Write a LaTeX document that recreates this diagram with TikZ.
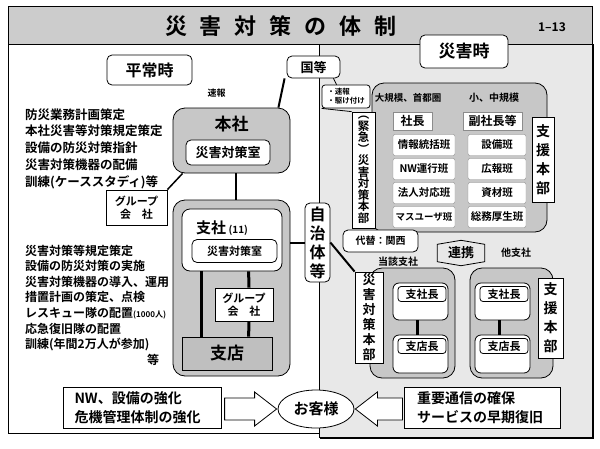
\documentclass[tikz,border=0pt]{standalone}
\usepackage{fontspec}
\setmainfont{Noto Sans CJK JP}[BoldFont={Noto Sans CJK JP Bold}]
\usepackage{tikz}
\usetikzlibrary{shapes.geometric}
\newcommand{\fsz}[2]{\fontsize{#1}{#2}\selectfont}

\begin{document}
\begin{tikzpicture}[x=1pt, y=-1pt,
    box/.style={draw, line width=0.8pt, fill=white, inner sep=0pt, font=\bfseries},
    rbox/.style={box, rounded corners=5pt},
    grey/.style={draw, line width=0.8pt, fill=black!22, inner sep=0pt, rounded corners=12pt},
    lbl/.style={inner sep=0pt, font=\bfseries},
    conn/.style={line width=2pt},
    cell/.style={draw=black!45, fill=white, inner sep=0pt, rounded corners=2pt, font=\fsz{10.5}{10.5}\bfseries}]
    \useasboundingbox (0, 0) rectangle (600, 448);

    % frame, right half, title band
    \draw[line width=1pt] (8, 6) rectangle (592, 433);
    \draw[line width=0.8pt, fill=black!9] (319, 44) rectangle (592, 437);
    \draw[line width=2pt] (320, 438) -- (593, 438) -- (593, 44);
    \draw[line width=1pt, fill=black!20] (8, 6) rectangle (592, 44);
    \node[lbl, font=\fsz{22}{22}\bfseries] (title) at (281, 26) {災\hspace{13pt}害\hspace{13pt}対\hspace{13pt}策\hspace{13pt}の\hspace{13pt}体\hspace{13pt}制};
    \node[lbl, font=\fsz{12}{12}\bfseries] (pageno) at (552, 27) {1–13};

    \node[rbox, font=\fsz{16}{16}\bfseries, minimum width=85pt, minimum height=30pt] (heijo) at (149.5, 70) {平常時};
    \node[rbox, font=\fsz{17}{17}\bfseries, minimum width=88pt, minimum height=33pt] (saigai) at (464, 51.5) {災害時};

    % left: normal times
    \node[lbl, anchor=west, align=left, font=\fsz{12.5}{16.75}\bfseries] (plan1) at (25, 148.5) {防災業務計画策定\\本社災害等対策規定策定\\設備の防災対策指針\\災害対策機器の配備\\訓練(ケーススタディ)等};
    \node[lbl, anchor=west, align=left, font=\fsz{12}{15.6}\bfseries] (plan2) at (25, 298) {災害対策等規定策定\\設備の防災対策の実施\\災害対策機器の導入、運用\\措置計画の策定、点検\\レスキュー隊の配置{\fsz{8}{8}(1000人)}\\応急復旧隊の配置\\訓練(年間2万人が参加)};
    \node[lbl, font=\fsz{12}{12}\bfseries] (etc2) at (153, 360) {等};

    \node[grey, minimum width=117pt, minimum height=65pt] (honsha) at (231.5, 140.5) {};
    \node[lbl, font=\fsz{17}{17}\bfseries] (honsha_t) at (231.5, 124) {本社};
    \node[rbox, font=\fsz{13}{13}\bfseries, minimum width=84pt, minimum height=25pt] (honsha_r) at (228, 152.5) {災害対策室};
    \node[box, align=center, font=\fsz{11}{13}\bfseries, minimum width=61pt, minimum height=35pt] (grp1) at (136.5, 207.5) {グループ\\会\hspace{1em}社};

    \node[grey, minimum width=117pt, minimum height=176pt] (shisha) at (231.5, 288) {};
    \node[rbox, rounded corners=8pt, minimum width=100pt, minimum height=62pt] (shisha_in) at (232, 240) {};
    \node[lbl, font=\fsz{15}{15}\bfseries] (shisha_t) at (222, 228) {支社\,{\fsz{10}{10}(11)}};
    \node[rbox, font=\fsz{11}{11}\bfseries, minimum width=85pt, minimum height=23pt] (shisha_r) at (234.5, 251) {災害対策室};
    \node[box, align=center, font=\fsz{11}{13}\bfseries, minimum width=58pt, minimum height=33pt] (grp2) at (244, 304.5) {グループ\\会\hspace{1em}社};
    \node[box, fill=black!25, font=\fsz{17}{17}\bfseries, minimum width=90pt, minimum height=33pt] (shiten) at (227, 353.5) {支店};

    \draw[line width=3pt] ([xshift=20pt]shisha_in.south west) -- ([xshift=20pt]shiten.north west);
    \draw[line width=3pt] ([xshift=67pt]shisha_in.south west) -- ([xshift=5pt]grp2.north);
    \draw[line width=3pt] ([xshift=5pt]grp2.south) -- ([xshift=67pt]shiten.north west);
    \draw[conn] ([xshift=4pt]honsha.south) -- ([xshift=4pt]shisha.north);
    \draw[line width=1.5pt] (grp1.north east) -- ([xshift=10pt]honsha.south west);

    % centre column
    \node[rbox, font=\fsz{13}{13}\bfseries, minimum width=53pt, minimum height=22pt] (kuni) at (313.5, 67) {国等};
    \draw[conn] ([xshift=-2pt]kuni.south west) -- ([xshift=-12pt]honsha.north east) node[midway, left=55pt, lbl, font=\fsz{9}{9}\bfseries] (lbl_sokuho) {速報};
    \node[rbox, align=center, font=\fsz{16}{19}\bfseries, minimum width=25pt, minimum height=79pt] (jichi) at (317.5, 242.5) {自\\治\\体\\等};
    \draw[conn] (jichi.west -| shisha.east) -- (jichi.west);

    % right: disaster times
    \node[rbox, rounded corners=3pt, align=left, font=\fsz{7.5}{9}\bfseries, minimum width=48pt, minimum height=23pt] (sokuho) at (346, 96.5) {・速報\\・駆け付け};
    \draw[thick] ([xshift=-7pt]kuni.south east) -- ([xshift=15pt]sokuho.north west);

    \node[grey, minimum width=175pt, minimum height=149pt] (honbu) at (459.5, 157.5) {};
    \node[lbl, font=\fsz{9.5}{9.5}\bfseries] (large) at (408, 98) {大規模、首都圏};
    \node[lbl, font=\fsz{10}{10}\bfseries] (small) at (494, 98) {小、中規模};
    \node[box, draw=black!45, font=\fsz{12}{12}\bfseries, minimum width=39pt, minimum height=18pt] (pres) at (412.5, 121) {社長};
    \node[box, draw=black!45, font=\fsz{12}{12}\bfseries, minimum width=59pt, minimum height=18pt] (vice) at (492.5, 121) {副社長等};
    \node[cell, minimum width=62pt, minimum height=21pt] (c11) at (424, 145) {情報統括班};
    \node[cell, minimum width=62pt, minimum height=21pt] (c12) at (424, 169) {NW運行班};
    \node[cell, minimum width=62pt, minimum height=21pt] (c13) at (424, 193) {法人対応班};
    \node[cell, minimum width=62pt, minimum height=21pt, font=\fsz{9.5}{9.5}\bfseries] (c14) at (424, 217) {マスユーザ班};
    \node[cell, minimum width=58pt, minimum height=21pt] (c21) at (497, 145) {設備班};
    \node[cell, minimum width=58pt, minimum height=21pt] (c22) at (497, 169) {広報班};
    \node[cell, minimum width=58pt, minimum height=21pt] (c23) at (497, 193) {資材班};
    \node[cell, minimum width=58pt, minimum height=21pt] (c24) at (497, 217) {総務厚生班};
    \node[box, align=center, font=\fsz{14}{19}\bfseries, minimum width=22pt, minimum height=85pt] (shien1) at (543, 159.5) {支\\援\\本\\部};
    \node[box, align=center, font=\fsz{11.5}{11.5}\bfseries, minimum width=23pt, minimum height=116pt] (kinkyu) at (363.5, 170) {︵\\緊\\急\\︶\\災\\害\\対\\策\\本\\部};
    \draw[thick] (sokuho.south west) -- (kinkyu.north west);

    \node[rbox, font=\fsz{10}{10}\bfseries, minimum width=75pt, minimum height=22pt] (kansai) at (380.5, 241) {代替：関西};
    \node[lbl, font=\fsz{13}{13}\bfseries, minimum width=47pt, minimum height=17pt] (renkei) at (461, 253) {連携};
    \draw[thick] (renkei.south west) -- (renkei.north west) -- ([yshift=4pt]renkei.north) -- (renkei.north east) -- (renkei.south east) -- ([yshift=-4pt]renkei.south) -- cycle;
    \node[lbl, font=\fsz{10}{10}\bfseries] (tougai) at (398, 262) {当該支社};
    \node[lbl, font=\fsz{10}{10}\bfseries] (tashi) at (516, 253) {他支社};

    \node[grey, minimum width=85pt, minimum height=110pt] (brA) at (412.5, 323) {};
    \node[box, align=center, font=\fsz{13}{15}\bfseries, minimum width=28pt, minimum height=91pt] (taisaku2) at (369, 317.5) {災\\害\\対\\策\\本\\部};
    \node[rbox, rounded corners=6pt, minimum width=55pt, minimum height=37pt] (brA1) at (420.5, 301.5) {};
    \node[rbox, rounded corners=3pt, font=\fsz{11}{11}\bfseries, minimum width=48pt, minimum height=15pt] (brA1t) at (422, 294) {支社長};
    \node[rbox, rounded corners=6pt, minimum width=55pt, minimum height=38pt] (brA2) at (420.5, 354) {};
    \node[rbox, rounded corners=3pt, font=\fsz{11}{11}\bfseries, minimum width=48pt, minimum height=15pt] (brA2t) at (422, 346) {支店長};
    \draw[line width=3pt] ([xshift=-3pt]brA1.south) -- ([xshift=-3pt]brA2.north);

    \node[grey, minimum width=83pt, minimum height=110pt] (brB) at (511.5, 323) {};
    \node[rbox, rounded corners=6pt, minimum width=55pt, minimum height=37pt] (brB1) at (502.5, 301.5) {};
    \node[rbox, rounded corners=3pt, font=\fsz{11}{11}\bfseries, minimum width=48pt, minimum height=15pt] (brB1t) at (504, 294) {支社長};
    \node[rbox, rounded corners=6pt, minimum width=55pt, minimum height=38pt] (brB2) at (502.5, 354) {};
    \node[rbox, rounded corners=3pt, font=\fsz{11}{11}\bfseries, minimum width=48pt, minimum height=15pt] (brB2t) at (504, 346) {支店長};
    \draw[line width=3pt] ([xshift=-3pt]brB1.south) -- ([xshift=-3pt]brB2.north);
    \node[box, align=center, font=\fsz{14}{19}\bfseries, minimum width=25pt, minimum height=80pt] (shien2) at (550.5, 318) {支\\援\\本\\部};

    \draw[conn] (jichi.east) -- (taisaku2.north west);

    % customers
    \node[box, align=left, font=\fsz{14}{19}\bfseries, minimum width=158pt, minimum height=41pt, text width=135pt] (kyouka) at (142, 407.5) {NW、設備の強化\\危機管理体制の強化};
    \node[ellipse, draw, line width=0.8pt, fill=white, font=\fsz{15}{15}\bfseries, minimum width=76pt, minimum height=38pt, inner sep=0pt] (kyaku) at (316, 409) {お客様};
    \draw[line width=0.8pt, fill=white] ([xshift=-1pt]kyaku.west) -- ++(-22, -17) -- ++(0, 6) -- ++(-30, 0) -- ++(0, 22) -- ++(30, 0) -- ++(0, 6) -- cycle;
    \draw[line width=0.8pt, fill=white] ([xshift=1pt]kyaku.east) -- ++(22, -17) -- ++(0, 6) -- ++(25, 0) -- ++(0, 22) -- ++(-25, 0) -- ++(0, 6) -- cycle;
    \node[box, align=left, font=\fsz{14}{19}\bfseries, minimum width=156pt, minimum height=41pt, text width=130pt] (juyo) at (482, 407.5) {重要通信の確保\\サービスの早期復旧};
\end{tikzpicture}
\end{document}
